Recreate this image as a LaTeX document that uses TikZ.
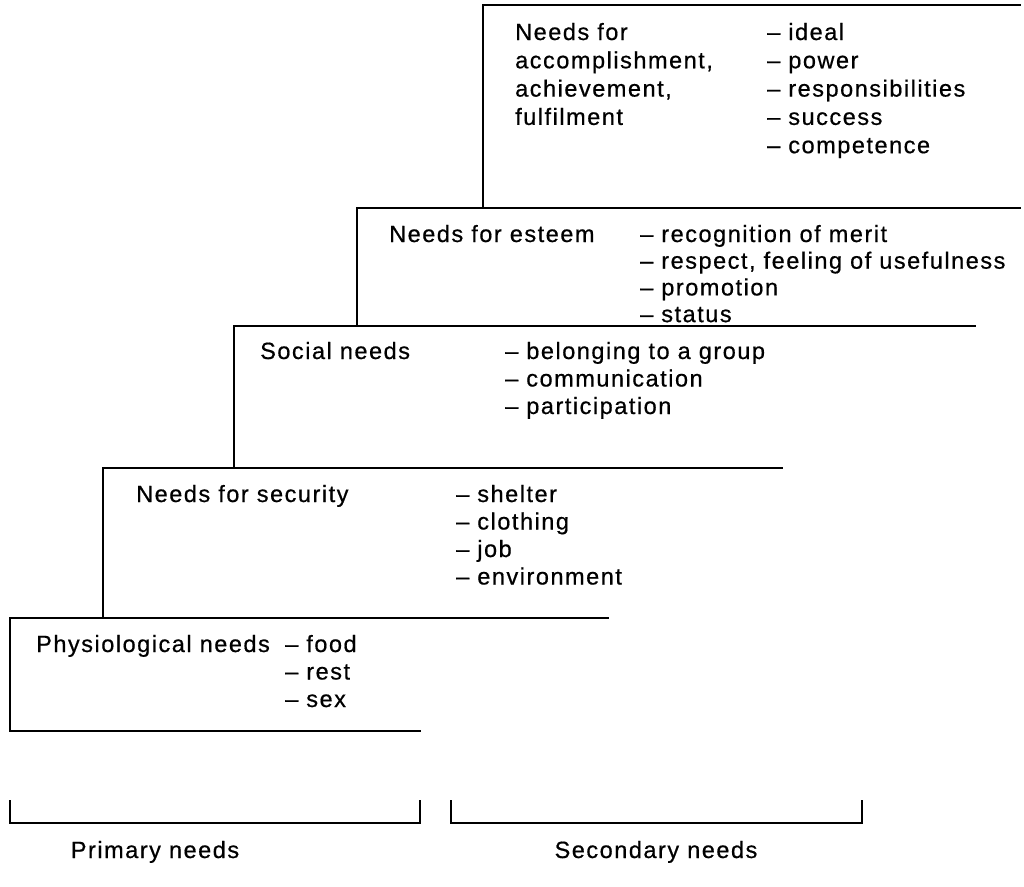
\documentclass[tikz,border=0pt]{standalone}
\usepackage{fontspec}
\setmainfont{Liberation Sans}[LetterSpace=6.5, FakeBold=0.6]
\begin{document}
\begin{tikzpicture}[x=1pt,y=-1pt,
  stair/.style={line width=1.8pt, line cap=rect, line join=miter},
  txt/.style={anchor=base west, inner sep=0pt, font=\fontsize{23.5}{28}\selectfont},
  lbl/.style={anchor=base, inner sep=0pt, font=\fontsize{23.5}{28}\selectfont}]
\useasboundingbox (0,0) rectangle (1024,886);
% staircase corners
\coordinate (t0) at (1020,5);
\coordinate (t1) at (483,5);
\coordinate (t2) at (483,208);
\coordinate (e0) at (1020,208);
\coordinate (e1) at (357,208);
\coordinate (e2) at (357,326);
\coordinate (s0) at (975,326);
\coordinate (s1) at (234,326);
\coordinate (s2) at (234,468);
\coordinate (c0) at (782,468);
\coordinate (c1) at (103,468);
\coordinate (c2) at (103,618);
\coordinate (p0) at (608,618);
\coordinate (p1) at (10,618);
\coordinate (p2) at (10,731);
\coordinate (p3) at (420,731);
\draw[stair] (t0) -- (t1) -- (t2);
\draw[stair] (e0) -- (e1) -- (e2);
\draw[stair] (s0) -- (s1) -- (s2);
\draw[stair] (c0) -- (c1) -- (c2);
\draw[stair] (p0) -- (p1) -- (p2) -- (p3);
% brackets
\coordinate (b1a) at (10,801);
\coordinate (b1b) at (10,823);
\coordinate (b1c) at (420,823);
\coordinate (b1d) at (420,801);
\coordinate (b2a) at (451,801);
\coordinate (b2b) at (451,823);
\coordinate (b2c) at (862,823);
\coordinate (b2d) at (862,801);
\draw[stair] (b1a) -- (b1b) -- (b1c) -- (b1d);
\draw[stair] (b2a) -- (b2b) -- (b2c) -- (b2d);
\node[lbl] (prim) at (155,858) {Primary needs};
\node[lbl] (sec) at (656,858) {Secondary needs};
% top box
\foreach \t [count=\i from 0] in {Needs for, {accomplishment,}, {achievement,}, fulfilment}
  \node[txt] (acc\i) at (515,40+28.3*\i) {\t};
\foreach \t [count=\i from 0] in {ideal, power, responsibilities, success, competence}
  \node[txt] (accl\i) at (767,40+28.3*\i) {\textendash\ \t};
% esteem
\node[txt] (est) at (389,242) {Needs for esteem};
\foreach \t [count=\i from 0] in {recognition of merit, {respect, feeling of usefulness}, promotion, status}
  \node[txt] (estl\i) at (640,242+26.7*\i) {\textendash\ \t};
% social
\node[txt] (soc) at (260,359) {Social needs};
\foreach \t [count=\i from 0] in {belonging to a group, communication, participation}
  \node[txt] (socl\i) at (505,359+27.5*\i) {\textendash\ \t};
% security
\node[txt] (secu) at (136,502) {Needs for security};
\foreach \t [count=\i from 0] in {shelter, clothing, job, environment}
  \node[txt] (secul\i) at (456,502+27.5*\i) {\textendash\ \t};
% physiological
\node[txt] (phys) at (36,652) {Physiological needs};
\foreach \t [count=\i from 0] in {food, rest, sex}
  \node[txt] (physl\i) at (285,652+27.5*\i) {\textendash\ \t};
\end{tikzpicture}
\end{document}
